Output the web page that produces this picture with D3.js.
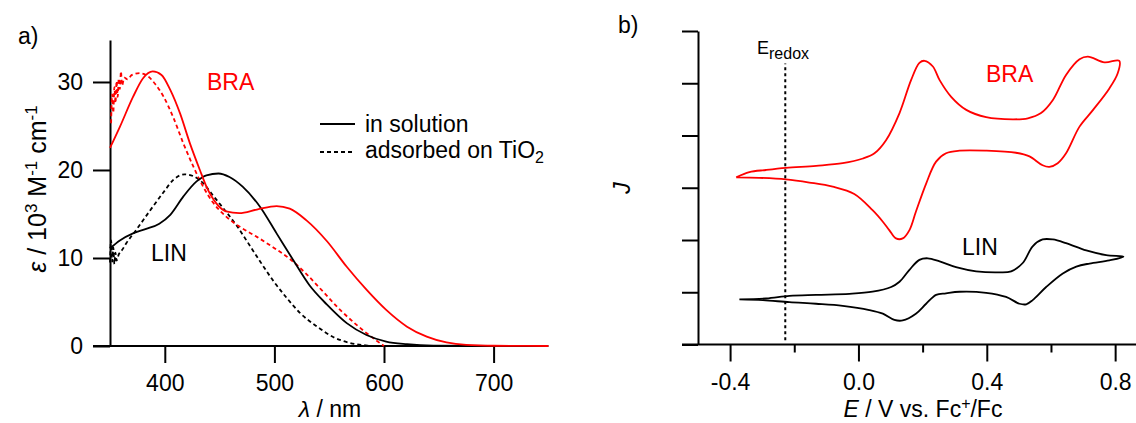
<!DOCTYPE html>
<html>
<head>
<meta charset="utf-8">
<script src="https://cdn.jsdelivr.net/npm/d3@7"></script>
<style>
body { margin: 0; background: #fff; }
svg text { font-family: "Liberation Sans", Arial, sans-serif; }
</style>
</head>
<body>
<script>
// ---- panel a: absorption spectra, [lambda (nm), epsilon (10^3 M^-1 cm^-1)]
const braSolution = [[350,22.5],[359,24.9],[371,28.3],[380,30.4],[389,31.2],[397,30.8],[405,29.1],[414,26.4],[423,23.0],[432,20.0],[438,18.1],[447,16.2],[456,15.3],[468,15.1],[484,15.5],[502,15.9],[514,15.6],[529,14.3],[548,11.9],[566,9.0],[584,6.4],[602,4.1],[621,2.2],[639,1.06],[657,0.4],[675,0.12],[700,0.03],[750,0]];
const linSolution = [[350,11.1],[359,12.0],[371,12.8],[383,13.3],[395,13.9],[405,14.9],[417,17.0],[429,18.7],[438,19.4],[449,19.6],[459,19.2],[471,18.1],[487,15.8],[502,12.8],[517,9.8],[532,6.9],[548,4.7],[566,2.6],[584,1.25],[602,0.5],[621,0.2],[645,0.04],[700,0]];
const braAdsorbed = [[351,25.3],[352,28.6],[353,26.5],[354,29.4],[355,27.6],[356,30.1],[357,28.3],[358,30.4],[359,29.2],[360,31.2],[361,29.6],[363,30.5],[366,30.3],[370,30.8],[377,31.0],[383,30.8],[391,29.8],[399,28.3],[408,25.9],[417,23.0],[426,20.4],[435,18.1],[444,16.3],[456,14.7],[469,13.5],[484,12.4],[499,11.2],[514,9.9],[529,8.2],[545,6.1],[560,4.1],[575,2.4],[590,0.9],[600,0]];
const linAdsorbed = [[350,9.5],[351,12.0],[352,9.6],[353,11.2],[354,9.3],[355,10.6],[356,9.7],[358,10.4],[361,10.9],[365,11.7],[374,13.2],[386,15.3],[399,17.5],[408,18.9],[418,19.5],[426,19.3],[435,18.5],[444,17.1],[455,15.4],[466,13.6],[475,11.9],[487,9.6],[499,7.4],[511,5.5],[523,3.8],[539,2.2],[554,1.0],[569,0.35],[585,0.05],[595,0]];
const lambdaTicks = [400, 500, 600, 700];
const epsTicks = [0, 10, 20, 30];

// ---- panel b: cyclic voltammograms, [E (V vs Fc+/Fc), J (arb.)]
const braCV = [[-0.381,3.20],[-0.340,3.30],[-0.288,3.34],[-0.226,3.38],[-0.132,3.42],[-0.049,3.47],[0.014,3.56],[0.050,3.66],[0.086,3.91],[0.128,4.43],[0.164,5.06],[0.190,5.39],[0.206,5.43],[0.232,5.32],[0.253,5.06],[0.289,4.74],[0.336,4.49],[0.398,4.35],[0.481,4.31],[0.528,4.33],[0.569,4.43],[0.606,4.68],[0.647,5.16],[0.689,5.46],[0.715,5.51],[0.767,5.40],[0.813,5.43],[0.808,5.19],[0.782,4.90],[0.730,4.48],[0.689,4.17],[0.647,3.66],[0.621,3.47],[0.595,3.40],[0.574,3.43],[0.533,3.60],[0.491,3.67],[0.398,3.71],[0.315,3.71],[0.273,3.66],[0.242,3.50],[0.211,3.08],[0.179,2.54],[0.159,2.19],[0.138,2.03],[0.117,2.03],[0.096,2.19],[0.076,2.35],[0.044,2.57],[-0.013,2.88],[-0.080,3.02],[-0.153,3.10],[-0.226,3.16],[-0.309,3.19],[-0.381,3.20]];
const linCV = [[-0.371,0.865],[-0.288,0.88],[-0.215,0.93],[-0.132,0.95],[-0.028,0.97],[0.044,1.01],[0.102,1.10],[0.128,1.20],[0.159,1.43],[0.190,1.62],[0.216,1.65],[0.253,1.59],[0.304,1.48],[0.367,1.40],[0.439,1.38],[0.476,1.40],[0.512,1.56],[0.543,1.88],[0.574,2.01],[0.606,2.01],[0.647,1.94],[0.710,1.80],[0.772,1.71],[0.826,1.68],[0.782,1.61],[0.720,1.55],[0.679,1.49],[0.637,1.36],[0.585,1.10],[0.543,0.85],[0.523,0.77],[0.502,0.78],[0.460,0.91],[0.398,0.99],[0.315,1.01],[0.273,0.98],[0.242,0.95],[0.211,0.78],[0.179,0.59],[0.138,0.46],[0.112,0.47],[0.076,0.59],[0.034,0.66],[-0.049,0.74],[-0.132,0.78],[-0.215,0.81],[-0.298,0.85],[-0.371,0.865]];
const eRedox = -0.228;
const eRedoxSpan = [0.08, 5.38];
const eMajorTicks = [-0.4, 0.0, 0.4, 0.8];
const eMinorTicks = [-0.2, 0.2, 0.6];
const jTicks = [0, 1, 2, 3, 4, 5, 6];

const WIDTH = 1136, HEIGHT = 423;
const FONT = 23;
const RED = "#ff0000";

const svg = d3.select("body").append("svg")
    .attr("width", WIDTH)
    .attr("height", HEIGHT)
    .attr("viewBox", [0, 0, WIDTH, HEIGHT]);

function styleAxis(g) {
    g.attr("font-size", FONT).attr("font-family", null);
    g.selectAll("line").attr("stroke-width", 2);
    g.selectAll("text").attr("fill", "#000");
}

// ================= panel a =================
const xA = d3.scaleLinear().domain([350, 750]).range([110, 548.4]);
const yA = d3.scaleLinear().domain([0, 34.77]).range([346, 40]);

const xAxisA = svg.append("g")
    .attr("transform", `translate(0,${yA(0)})`)
    .call(d3.axisBottom(xA).tickValues(lambdaTicks).tickSize(17).tickPadding(12).tickSizeOuter(0))
    .call(styleAxis);
xAxisA.select(".domain").remove();
svg.append("line")
    .attr("x1", xA.range()[0] - 17).attr("x2", xA.range()[1])
    .attr("y1", yA(0)).attr("y2", yA(0))
    .attr("stroke", "#000").attr("stroke-width", 2);

const yAxisA = svg.append("g")
    .attr("transform", `translate(${xA(350)},0)`)
    .call(d3.axisLeft(yA).tickValues(epsTicks).tickSize(17).tickPadding(10).tickSizeOuter(0))
    .call(styleAxis);
yAxisA.select(".domain").attr("stroke-width", 2);

const lineA = d3.line()
    .x(d => xA(d[0]))
    .y(d => yA(d[1]))
    .curve(d3.curveMonotoneX);

const spectra = [
    { data: linAdsorbed, color: "#000", dash: "4,3" },
    { data: braAdsorbed, color: RED, dash: "4,3" },
    { data: linSolution, color: "#000", dash: null },
    { data: braSolution, color: RED, dash: null }
];
spectra.forEach(function(s) {
    svg.append("path")
        .datum(s.data)
        .attr("d", lineA)
        .attr("fill", "none")
        .attr("stroke", s.color)
        .attr("stroke-width", 1.8)
        .attr("stroke-dasharray", s.dash);
});

// labels panel a
svg.append("text").text("a)").attr("x", 18).attr("y", 44).attr("font-size", FONT);
svg.append("text").text("BRA").attr("x", 207).attr("y", 90).attr("font-size", FONT).attr("fill", RED);
svg.append("text").text("LIN").attr("x", 151).attr("y", 261).attr("font-size", FONT);

// legend
svg.append("line").attr("x1", 320).attr("x2", 355).attr("y1", 124).attr("y2", 124)
    .attr("stroke", "#000").attr("stroke-width", 1.8);
svg.append("text").text("in solution").attr("x", 365).attr("y", 132).attr("font-size", FONT);
svg.append("line").attr("x1", 320).attr("x2", 355).attr("y1", 152).attr("y2", 152)
    .attr("stroke", "#000").attr("stroke-width", 1.8).attr("stroke-dasharray", "4,3");
const leg2 = svg.append("text").attr("x", 365).attr("y", 158).attr("font-size", FONT);
leg2.append("tspan").text("adsorbed on TiO");
leg2.append("tspan").text("2").attr("font-size", 16).attr("dy", 5);

// axis titles panel a
const xtA = svg.append("text").attr("x", 330).attr("y", 417).attr("text-anchor", "middle").attr("font-size", FONT);
xtA.append("tspan").text("λ").attr("font-style", "italic");
xtA.append("tspan").text(" / nm");

const ytA = svg.append("text")
    .attr("transform", "rotate(-90)")
    .attr("x", -189).attr("y", 46)
    .attr("text-anchor", "middle").attr("font-size", 25);
ytA.append("tspan").text("ε").attr("font-style", "italic");
ytA.append("tspan").text(" / 10");
ytA.append("tspan").text("3").attr("font-size", 17).attr("dy", -9);
ytA.append("tspan").text(" M").attr("dy", 9);
ytA.append("tspan").text("-1").attr("font-size", 17).attr("dy", -9);
ytA.append("tspan").text(" cm").attr("dy", 9);
ytA.append("tspan").text("-1").attr("font-size", 17).attr("dy", -9);

// ================= panel b =================
const xB = d3.scaleLinear().domain([-0.5, 0.865]).range([698, 1136]);
const yB = d3.scaleLinear().domain([0, 6]).range([344.5, 31]);

const xAxisB = svg.append("g")
    .attr("transform", `translate(0,${yB(0)})`)
    .call(d3.axisBottom(xB).tickValues(eMajorTicks).tickSize(17).tickPadding(12)
        .tickFormat(d => d.toFixed(1)).tickSizeOuter(0))
    .call(styleAxis);
xAxisB.select(".domain").remove();
svg.append("g")
    .attr("transform", `translate(0,${yB(0)})`)
    .call(d3.axisBottom(xB).tickValues(eMinorTicks).tickSize(8).tickFormat("").tickSizeOuter(0))
    .call(styleAxis)
    .select(".domain").remove();
svg.append("line")
    .attr("x1", xB.range()[0] - 16).attr("x2", xB.range()[1])
    .attr("y1", yB(0)).attr("y2", yB(0))
    .attr("stroke", "#000").attr("stroke-width", 2);

const yAxisB = svg.append("g")
    .attr("transform", `translate(${xB.range()[0]},0)`)
    .call(d3.axisLeft(yB).tickValues(jTicks).tickSize(16).tickFormat("").tickSizeOuter(0))
    .call(styleAxis);
yAxisB.select(".domain").attr("stroke-width", 2);

const lineB = d3.line()
    .x(d => xB(d[0]))
    .y(d => yB(d[1]))
    .curve(d3.curveCatmullRom.alpha(0.5));

svg.append("path").datum(braCV).attr("d", lineB)
    .attr("fill", "none").attr("stroke", RED).attr("stroke-width", 1.8);
svg.append("path").datum(linCV).attr("d", lineB)
    .attr("fill", "none").attr("stroke", "#000").attr("stroke-width", 1.8);

// E_redox marker
svg.append("line")
    .attr("x1", xB(eRedox)).attr("x2", xB(eRedox))
    .attr("y1", yB(eRedoxSpan[0])).attr("y2", yB(eRedoxSpan[1]))
    .attr("stroke", "#000").attr("stroke-width", 2).attr("stroke-dasharray", "3,3");
const eLab = svg.append("text").attr("x", 757).attr("y", 54).attr("font-size", 18);
eLab.append("tspan").text("E");
eLab.append("tspan").text("redox").attr("font-size", 16).attr("dy", 5);

// labels panel b
svg.append("text").text("b)").attr("x", 618).attr("y", 33).attr("font-size", FONT);
svg.append("text").text("BRA").attr("x", 986).attr("y", 82).attr("font-size", FONT).attr("fill", RED);
svg.append("text").text("LIN").attr("x", 962).attr("y", 255).attr("font-size", FONT);

const xtB = svg.append("text").attr("x", 923).attr("y", 417).attr("text-anchor", "middle").attr("font-size", FONT);
xtB.append("tspan").text("E").attr("font-style", "italic");
xtB.append("tspan").text(" / V vs. Fc");
xtB.append("tspan").text("+").attr("font-size", 16).attr("dy", -8);
xtB.append("tspan").text("/Fc").attr("dy", 8);

svg.append("text")
    .attr("transform", "rotate(-90)")
    .attr("x", -188).attr("y", 630)
    .attr("text-anchor", "middle").attr("font-size", FONT)
    .attr("font-style", "italic")
    .text("J");
</script>
</body>
</html>
